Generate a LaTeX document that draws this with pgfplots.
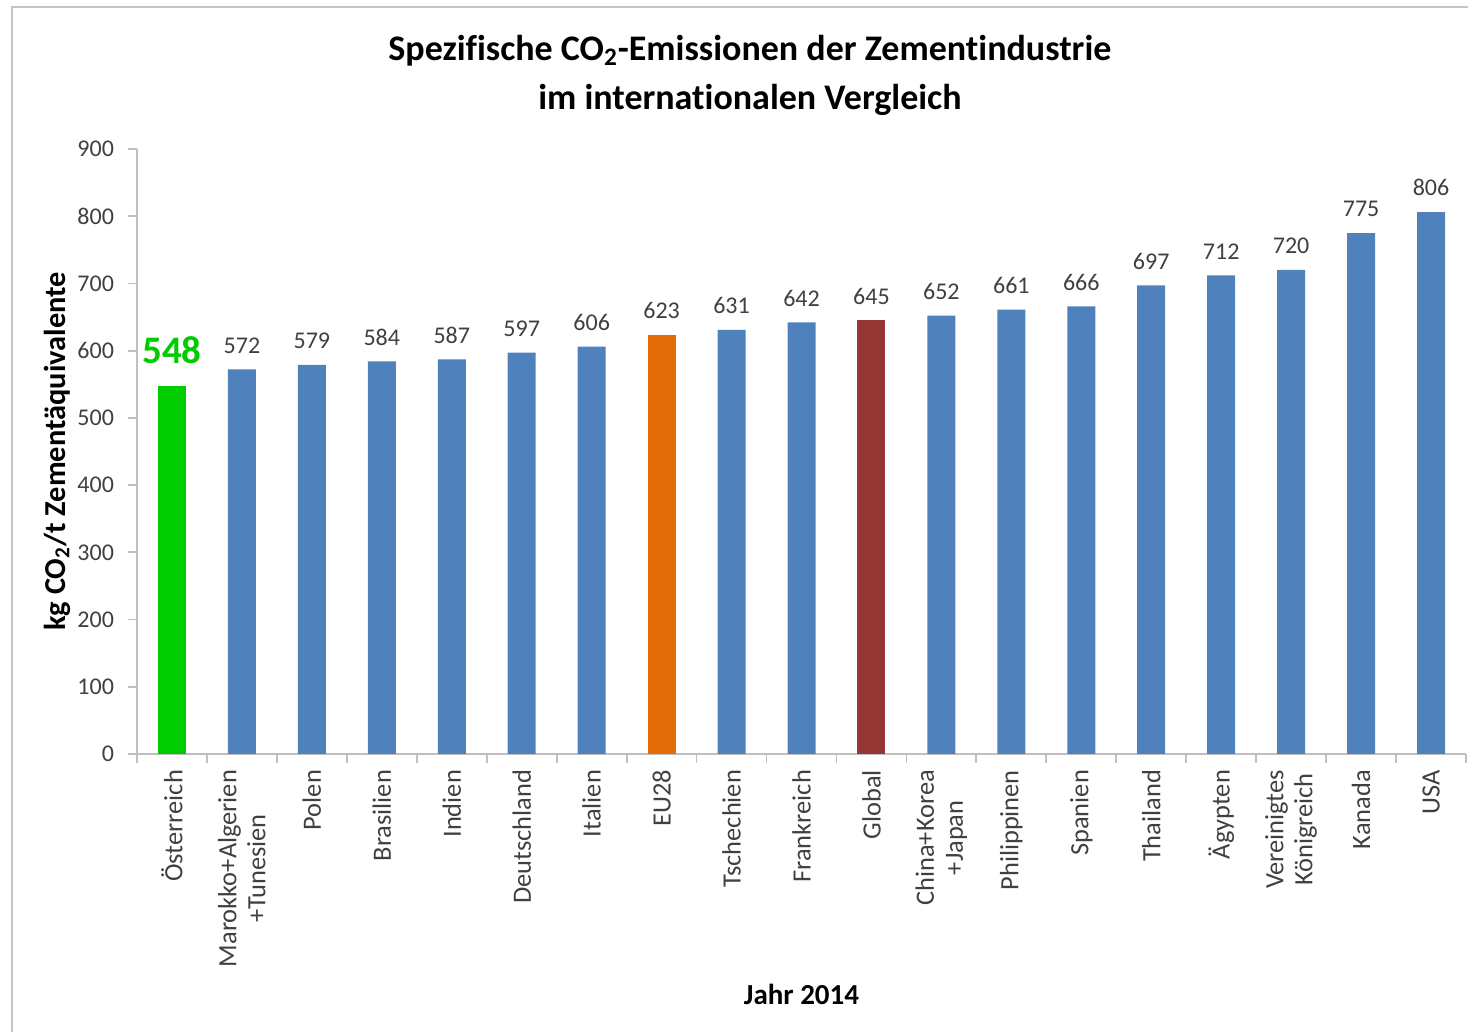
\documentclass[border=0pt]{standalone}
\usepackage{pgfplots}
\pgfplotsset{compat=1.18}
\usepackage{fontspec}
\setmainfont{Carlito}[Ligatures={TeX,NoCommon}]
\definecolor{barblue}{HTML}{4F81BD}
\definecolor{bargreen}{HTML}{00CC00}
\definecolor{barorange}{HTML}{E36C09}
\definecolor{barred}{HTML}{953735}
\definecolor{axisgray}{HTML}{BFBFBF}
\definecolor{framegray}{HTML}{C4C4C4}
\definecolor{txtgray}{HTML}{404040}
\begin{document}
\begin{tikzpicture}
\path[use as bounding box] (0,0) rectangle (734pt,516pt);
\draw[color=framegray, line width=1pt] (6pt,0) -- (6pt,512.5pt) -- (734pt,512.5pt);
\begin{axis}[
  at={(68.5pt,139pt)}, anchor=south west,
  scale only axis, width=664.5pt, height=302.5pt,
  xmin=-0.5, xmax=18.5, ymin=0, ymax=900,
  ytick={0,100,...,900},
  xtick={0,...,18},
  xticklabels={Österreich,{Marokko+Algerien\\+Tunesien},Polen,Brasilien,Indien,Deutschland,Italien,EU28,Tschechien,Frankreich,Global,{China+Korea\\+Japan},Philippinen,Spanien,Thailand,Ägypten,{Vereinigtes\\Königreich},Kanada,USA},
  minor xtick={-0.5,0.5,...,18.5},
  axis x line*=bottom, axis y line*=left,
  axis line style={axisgray, line width=0.9pt},
  tick style={axisgray, line width=0.9pt},
  tick align=outside,
  major tick length=4.5pt, minor tick length=4.5pt,
  major x tick style={draw=none},
  /pgf/number format/assume math mode=true,
  ticklabel style={font=\fontsize{12}{14}\selectfont, text=txtgray},
  yticklabel style={xshift=-3.5pt},
  xticklabel style={rotate=90, anchor=east, align=center, font=\fontsize{13.2}{14.5}\selectfont},
  ybar, bar width=14pt, bar shift=0pt,
  title={Spezifische CO\textsubscript{2}-Emissionen der Zementindustrie\\im internationalen Vergleich},
  title style={at={(axis description cs:0.4612,1.1016)}, anchor=center, align=center, font=\fontsize{18}{24.5}\selectfont\bfseries, text=black},
  xlabel={Jahr 2014},
  xlabel style={at={(axis description cs:0.5,-0.398)}, anchor=center, font=\fontsize{14.5}{17}\selectfont\bfseries},
  ylabel={kg CO\textsubscript{2}/t Zementäquivalente},
  ylabel style={at={(axis description cs:-0.0602,0.5)}, anchor=center, font=\fontsize{15.2}{17}\selectfont\bfseries},
  nodes near coords,
  nodes near coords style={font=\fontsize{12}{14}\selectfont, text=txtgray, yshift=4.5pt},
]
\addplot[fill=barblue, draw=none] coordinates {
  (1,572) (2,579) (3,584) (4,587) (5,597) (6,606) (8,631) (9,642)
  (11,652) (12,661) (13,666) (14,697) (15,712) (16,720) (17,775) (18,806)};
\addplot[fill=bargreen, draw=none, nodes near coords style={font=\fontsize{19.5}{22}\selectfont\bfseries, text=bargreen, yshift=3pt}] coordinates {(0,548)};
\addplot[fill=barorange, draw=none] coordinates {(7,623)};
\addplot[fill=barred, draw=none] coordinates {(10,645)};
\end{axis}
\end{tikzpicture}
\end{document}
